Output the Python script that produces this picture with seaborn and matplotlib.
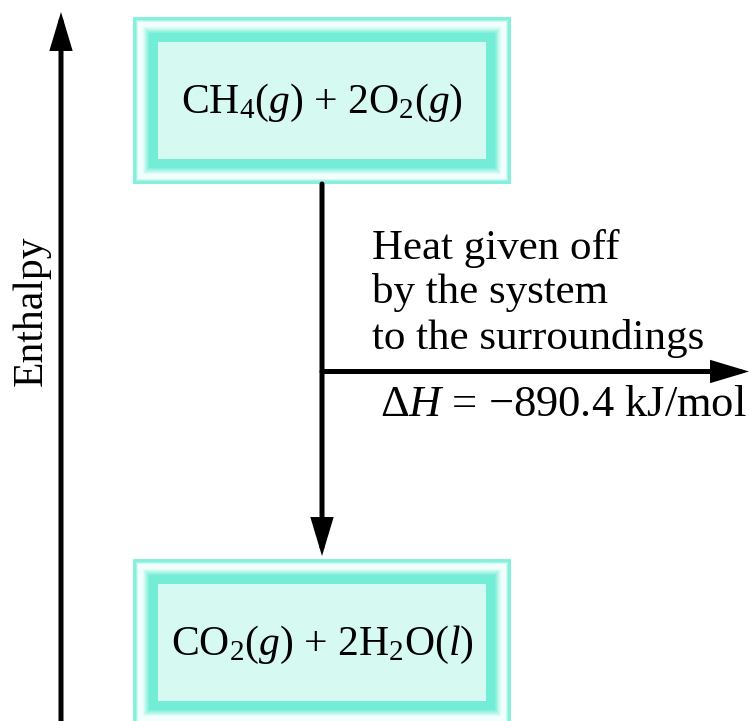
import numpy as np

import matplotlib.pyplot as plt
from matplotlib.patches import Rectangle

import seaborn as sns

# enthalpy levels (kJ/mol) of reactants and products
STATES = [r'CH$_4$($g$) + 2O$_2$($g$)', r'CO$_2$($g$) + 2H$_2$O($l$)']
ENTHALPY = [0.0, -890.4]
DELTA_H = ENTHALPY[1] - ENTHALPY[0]
HEAT_TEXT = 'Heat given off\nby the system\nto the surroundings'
AXIS_LABEL = 'Enthalpy'

W, H = 751, 721
# pixel layout: box centres sit at these rows of the figure
ROW_TOP, ROW_BOTTOM = 100.5, 642.5
KJ_PER_PX = abs(DELTA_H) / (ROW_BOTTOM - ROW_TOP)

BOX_X0, BOX_X1 = 133, 511
BOX_H = 167
ARROW_X = 322
AXIS_X = 61

TEAL_EDGE = np.array([134, 240, 220]) / 255
WHITE = np.array([242, 255, 252]) / 255
TEAL = np.array([116, 237, 215]) / 255
FILL = '#d6faf2'


def border_ramp():
    '''
    colours from the outer edge inwards for the bevelled frame
    '''
    anchors = [(0, TEAL_EDGE), (2, TEAL_EDGE), (5, WHITE), (9, WHITE),
               (16, TEAL), (25, TEAL)]
    pos = [a[0] for a in anchors]
    cols = np.array([a[1] for a in anchors])
    out = []
    for i in range(25):
        out.append([np.interp(i, pos, cols[:, c]) for c in range(3)])
    return out


def px(n):
    return n * KJ_PER_PX


def level_box(ax, level, label):
    half = BOX_H / 2
    for i, c in enumerate(border_ramp()):
        ax.add_patch(Rectangle((BOX_X0 + i, level - px(half - i)),
                               BOX_X1 - BOX_X0 - 2 * i, px(BOX_H - 2 * i),
                               facecolor=c, lw=0))
    ax.add_patch(Rectangle((BOX_X0 + 25, level - px(half - 25)),
                           BOX_X1 - BOX_X0 - 50, px(BOX_H - 50),
                           facecolor=FILL, lw=0))
    ax.text((BOX_X0 + BOX_X1) / 2, level - px(2), label, ha='center',
            va='center', fontsize=30, color='black')


def arrow(ax, start, tip):
    ax.annotate('', xy=tip, xytext=start,
                arrowprops=dict(arrowstyle='-|>,head_length=1.0,head_width=0.3',
                                mutation_scale=20, lw=3.6, color='black',
                                shrinkA=0, shrinkB=0, joinstyle='miter'))


def main():
    sns.set_theme(style='white')
    plt.rcParams['font.family'] = ['Liberation Serif', 'DejaVu Serif']
    plt.rcParams['mathtext.fontset'] = 'custom'
    plt.rcParams['mathtext.rm'] = 'Liberation Serif'
    plt.rcParams['mathtext.it'] = 'Liberation Serif:italic'

    fig = plt.figure(figsize=(W / 100, H / 100), dpi=100)
    ax = fig.add_axes([0, 0, 1, 1])
    ax.set_xlim(0, W)
    y_top = ENTHALPY[0] + px(ROW_TOP)
    y_bot = ENTHALPY[1] - px(H - ROW_BOTTOM)
    ax.set_ylim(y_bot, y_top)
    ax.axis('off')

    for level, label in zip(ENTHALPY, STATES):
        level_box(ax, level, label)

    # enthalpy axis
    arrow(ax, (AXIS_X, y_bot), (AXIS_X, y_top - px(12)))
    ax.text(31, y_top - px(311), AXIS_LABEL, rotation=90, ha='center',
            va='center', fontsize=30, color='black')

    # reaction arrow between the two levels
    arrow(ax, (ARROW_X, ENTHALPY[0] - px(BOX_H / 2)),
          (ARROW_X, ENTHALPY[1] + px(BOX_H / 2 + 3)))

    mid = (ENTHALPY[0] + ENTHALPY[1]) / 2
    arrow(ax, (ARROW_X, mid), (W - 2, mid))

    # multi-line text: 'baseline' pins the last line
    ax.text(372, mid + px(371 - 348), HEAT_TEXT, ha='left', va='baseline',
            fontsize=31, linespacing=1.2, color='black')
    ax.text(380, mid - px(415 - 371),
            r'$\Delta H$ = ' + '\u2212%.1f kJ/mol' % abs(DELTA_H),
            ha='left', va='baseline', fontsize=32, color='black')

    fig.savefig('out.png', dpi=100)


if __name__ == '__main__':
    main()
